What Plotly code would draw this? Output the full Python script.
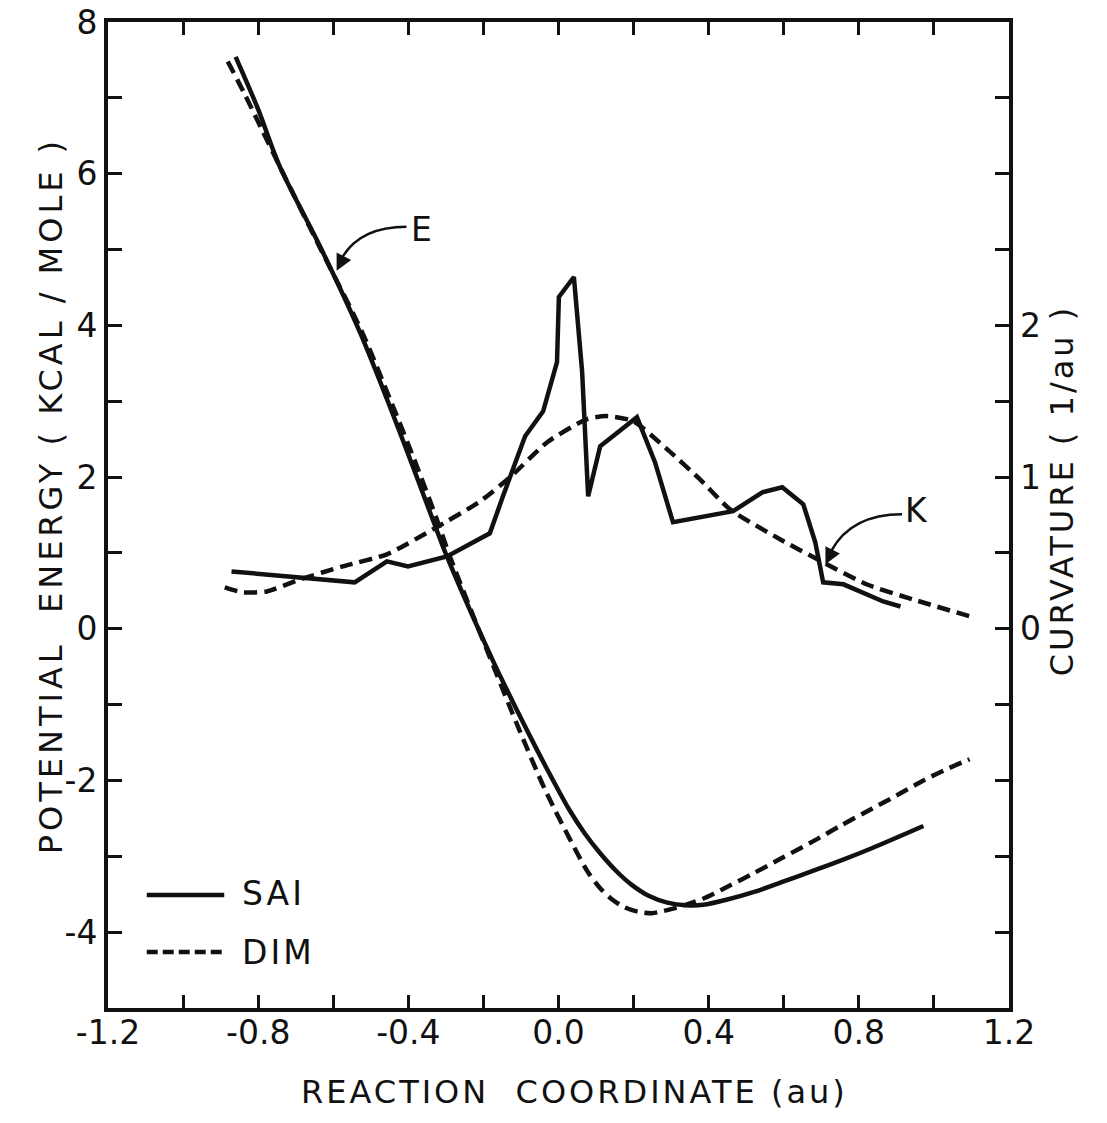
import plotly.graph_objects as go

# ---------------- data ----------------
sai_e_x = [-0.860, -0.801, -0.743, -0.636, -0.529, -0.457, -0.388, -0.335, -0.297, -0.172,
           -0.110, -0.057, -0.010, 0.028, 0.070, 0.111, 0.155, 0.196, 0.240, 0.290,
           0.340, 0.385, 0.450, 0.521, 0.600, 0.679, 0.760, 0.836, 0.972]
sai_e_y = [7.54, 6.86, 6.10, 5.05, 3.91, 3.03, 2.14, 1.44, 0.95, -0.45,
           -1.08, -1.60, -2.04, -2.38, -2.70, -2.96, -3.20, -3.38, -3.52, -3.61,
           -3.645, -3.64, -3.57, -3.47, -3.33, -3.19, -3.04, -2.89, -2.60]

dim_e_x = [-0.881, -0.836, -0.791, -0.743, -0.636, -0.524, -0.449, -0.377, -0.324, -0.289,
           -0.172, -0.108, -0.036, 0.049, 0.080, 0.111, 0.143, 0.175, 0.212, 0.249,
           0.280, 0.305, 0.385, 0.450, 0.521, 0.600, 0.679, 0.750, 0.836, 0.900,
           0.972, 1.030, 1.095]
dim_e_y = [7.48, 7.05, 6.59, 6.10, 5.03, 3.92, 3.03, 2.14, 1.44, 0.95,
           -0.51, -1.29, -2.12, -2.95, -3.22, -3.42, -3.57, -3.67, -3.73, -3.75,
           -3.72, -3.69, -3.56, -3.40, -3.22, -3.01, -2.80, -2.60, -2.37, -2.20,
           -2.00, -1.86, -1.72]

sai_k_x = [-0.871, -0.543, -0.457, -0.401, -0.297, -0.183, -0.148, -0.089, -0.041, -0.015,
           -0.004, 0.001, 0.041, 0.063, 0.079, 0.111, 0.209, 0.257, 0.305, 0.465,
           0.543, 0.596, 0.652, 0.684, 0.705, 0.759, 0.865, 0.911]
sai_k_y = [0.378, 0.306, 0.444, 0.411, 0.477, 0.629, 0.873, 1.269, 1.434, 1.665,
           1.758, 2.187, 2.319, 1.692, 0.873, 1.203, 1.395, 1.098, 0.702, 0.775,
           0.900, 0.933, 0.821, 0.570, 0.306, 0.293, 0.180, 0.147]

dim_k_x = [-0.889, -0.841, -0.777, -0.689, -0.575, -0.457, -0.334, -0.209, -0.129, -0.030,
           0.076, 0.129, 0.199, 0.289, 0.377, 0.457, 0.591, 0.705, 0.822, 0.945, 1.097]
dim_k_y = [0.273, 0.240, 0.246, 0.325, 0.411, 0.491, 0.656, 0.840, 0.999, 1.230,
           1.382, 1.402, 1.369, 1.184, 0.985, 0.787, 0.589, 0.438, 0.292, 0.193, 0.081]

x_tick_vals = [-1.2, -1.0, -0.8, -0.6, -0.4, -0.2, 0.0, 0.2, 0.4, 0.6, 0.8, 1.0, 1.2]
x_tick_text = ["-1.2", "", "-0.8", "", "-0.4", "", "0.0", "", "0.4", "", "0.8", "", "1.2"]
y_tick_vals = [-5, -4, -3, -2, -1, 0, 1, 2, 3, 4, 5, 6, 7, 8]
y_tick_text = ["", "-4", "", "-2", "", "0", "", "2", "", "4", "", "6", "", "8"]
y2_tick_vals = [0, 1, 2]
y2_tick_text = ["0", "1", "2"]

FONT = "DejaVu Sans"
BLACK = "#111111"

fig = go.Figure()
solid = dict(color=BLACK, width=4.5)
dashed = dict(color=BLACK, width=4.5, dash="13px,7px")

fig.add_trace(go.Scatter(x=sai_e_x, y=sai_e_y, mode="lines", line=dict(**solid, shape="spline", smoothing=0.8),
                         showlegend=False))
fig.add_trace(go.Scatter(x=dim_e_x, y=dim_e_y, mode="lines", line=dict(**dashed, shape="spline", smoothing=0.8),
                         showlegend=False))
fig.add_trace(go.Scatter(x=sai_k_x, y=sai_k_y, mode="lines", line=solid, yaxis="y2", showlegend=False))
fig.add_trace(go.Scatter(x=dim_k_x, y=dim_k_y, mode="lines", line=dict(**dashed, shape="spline", smoothing=0.6),
                         yaxis="y2", showlegend=False))

tickfont = dict(family=FONT, size=33, color=BLACK)

fig.update_layout(
    width=1107, height=1123,
    margin=dict(l=108, r=98, t=22, b=115),
    paper_bgcolor="white", plot_bgcolor="white",
    xaxis=dict(range=[-1.2, 1.2], tickvals=x_tick_vals, ticktext=x_tick_text,
               ticks="inside", ticklen=13, tickwidth=3, tickcolor=BLACK, automargin=False,
               showline=True, linewidth=4, linecolor=BLACK, mirror="ticks",
               showgrid=False, zeroline=False, tickfont=tickfont, ticklabelstandoff=-8),
    yaxis=dict(range=[-5, 8], tickvals=y_tick_vals, ticktext=y_tick_text,
               ticks="inside", ticklen=14, tickwidth=3, tickcolor=BLACK, automargin=False,
               showline=True, linewidth=4, linecolor=BLACK, mirror="ticks",
               showgrid=False, zeroline=False, tickfont=tickfont, ticklabelstandoff=0),
    yaxis2=dict(range=[-2.5, 4], overlaying="y", side="right", tickvals=y2_tick_vals,
                ticktext=y2_tick_text, ticks="", showline=False, showgrid=False, automargin=False,
                zeroline=False, tickfont=tickfont, ticklabelstandoff=10),
)

title_font = dict(family=FONT, size=32, color=BLACK)
# axis titles
fig.add_annotation(text='<span style="letter-spacing:3px">REACTION  COORDINATE (au)</span>',
                   xref="paper", yref="paper", x=0.518, y=-0.085,
                   showarrow=False, font=title_font, yanchor="middle")
fig.add_annotation(text='<span style="letter-spacing:4px">POTENTIAL  ENERGY ( KCAL / MOLE )</span>',
                   xref="paper", yref="paper", x=-0.0866, y=0.52, yanchor="middle",
                   textangle=-90, showarrow=False, font=title_font)
fig.add_annotation(text='<span style="letter-spacing:3px">CURVATURE ( 1/au )</span>',
                   xref="paper", yref="paper", x=1.082, y=0.525, yanchor="middle",
                   textangle=-90, showarrow=False, font=title_font)

# legend (drawn manually to match long key lines)
fig.add_shape(type="line", xref="paper", yref="paper", x0=0.043, x1=0.129, y0=0.1147, y1=0.1147,
              line=dict(color=BLACK, width=4.5))
fig.add_shape(type="line", xref="paper", yref="paper", x0=0.043, x1=0.129, y0=0.0569, y1=0.0569,
              line=dict(color=BLACK, width=4.5, dash="11px,5px"))
leg_font = dict(family=FONT, size=33, color=BLACK)
fig.add_annotation(text='<span style="letter-spacing:3px">SAI</span>', xref="paper", yref="paper",
                   x=0.146, y=0.1157, xanchor="left", yanchor="middle", showarrow=False, font=leg_font)
fig.add_annotation(text='<span style="letter-spacing:3px">DIM</span>', xref="paper", yref="paper",
                   x=0.146, y=0.0559, xanchor="left", yanchor="middle", showarrow=False, font=leg_font)

# curve labels with curved arrows
fig.add_annotation(text="E", x=-0.364, y=5.26, showarrow=False, font=leg_font)
fig.add_shape(type="path", xref="x", yref="y", path="M -0.405 5.30 Q -0.530 5.30 -0.578 4.88",
              line=dict(color=BLACK, width=2.5))
fig.add_annotation(text="", x=-0.591, y=4.72, ax=7, ay=-14, showarrow=True, arrowhead=2,
                   arrowsize=1.3, arrowwidth=2.5, arrowcolor=BLACK)

fig.add_annotation(text="K", x=0.953, y=1.56, showarrow=False, font=leg_font)
fig.add_annotation(text="", x=0.711, y=0.85, ax=7, ay=-14, showarrow=True, arrowhead=2,
                   arrowsize=1.3, arrowwidth=2.5, arrowcolor=BLACK)
fig.add_shape(type="path", xref="x", yref="y", path="M 0.915 1.51 Q 0.780 1.51 0.727 1.03",
              line=dict(color=BLACK, width=2.5))

fig.write_html("out.html")
